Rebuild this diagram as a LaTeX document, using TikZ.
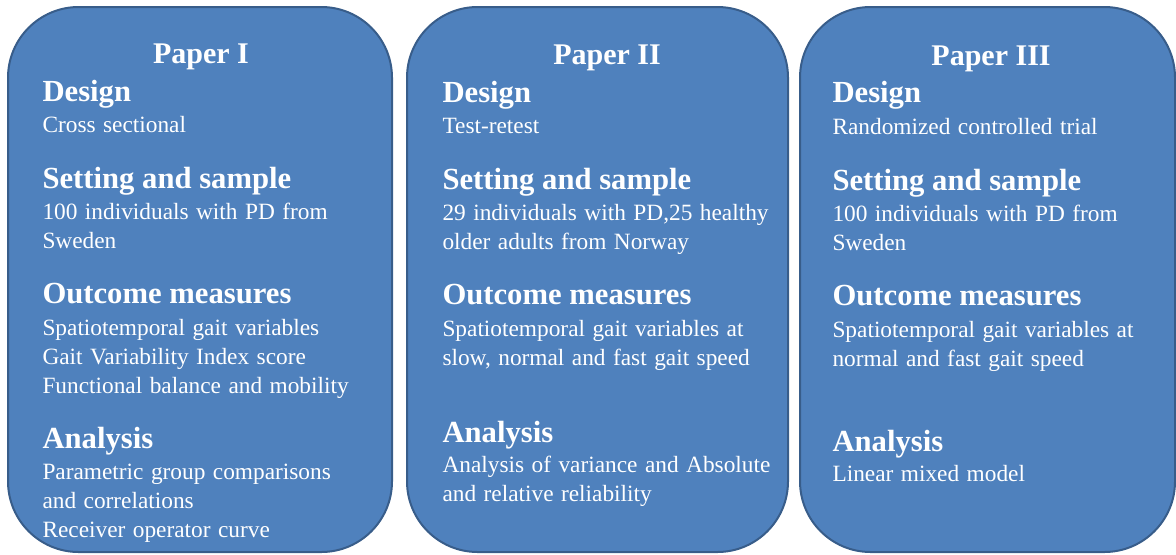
\documentclass[tikz,border=0pt]{standalone}
\usepackage{fontspec}
\setmainfont{Liberation Serif}

\definecolor{boxfill}{RGB}{79,129,189}
\definecolor{boxline}{RGB}{56,93,138}
\newcommand{\paperbodyfont}{\fontsize{17.5}{21}\selectfont\spaceskip=0.32em\relax}

\tikzset{every picture/.style={line width=0.75pt}}
\tikzset{
  paperbox/.style={draw=boxline, fill=boxfill, line width=1.5pt, rounded corners=53pt},
  titletxt/.style={anchor=base, inner sep=0pt, text=white, font=\fontsize{22.5}{27}\selectfont\bfseries},
  headtxt/.style={anchor=base west, inner sep=0pt, text=white, font=\fontsize{23}{28}\selectfont\bfseries},
  bodytxt/.style={anchor=base west, inner sep=0pt, text=white, font=\paperbodyfont}
}

\begin{document}
\begin{tikzpicture}[x=0.75pt,y=0.75pt,yscale=-1,xscale=1]
\useasboundingbox (0,0) rectangle (1176,554);

%Shape: Rounded Rect [paper I]
\draw [paperbox] (8,7) rectangle (392,552);
%Shape: Rounded Rect [paper II]
\draw [paperbox] (407,7) rectangle (788,552);
%Shape: Rounded Rect [paper III]
\draw [paperbox] (800,7) rectangle (1175,552);

% Text Node
\node [titletxt] (titleI) at (201,63) {Paper I};
\node [headtxt] (desI) at (42,101) {Design};
\node [bodytxt] (desIa) at (42,132) {Cross sectional};
\node [headtxt] (setI) at (42,188) {Setting and sample};
\node [bodytxt] (setIa) at (42,219) {100 individuals with PD from};
\node [bodytxt] (setIb) at (42,248) {Sweden};
\node [headtxt] (outI) at (42,303) {Outcome measures};
\node [bodytxt] (outIa) at (42,335) {Spatiotemporal gait variables};
\node [bodytxt] (outIb) at (42,364) {Gait Variability Index score};
\node [bodytxt] (outIc) at (42,393) {Functional balance and mobility};
\node [headtxt] (anaI) at (42,448) {Analysis};
\node [bodytxt] (anaIa) at (42,479) {Parametric group comparisons};
\node [bodytxt] (anaIb) at (42,508) {and correlations};
\node [bodytxt] (anaIc) at (42,537) {Receiver operator curve};

% Text Node
\node [titletxt] (titleII) at (607,64) {Paper II};
\node [headtxt] (desII) at (442,102) {Design};
\node [bodytxt] (desIIa) at (442,133) {Test-retest};
\node [headtxt] (setII) at (442,189) {Setting and sample};
\node [bodytxt] (setIIa) at (442,220) {29 individuals with PD,25 healthy};
\node [bodytxt] (setIIb) at (442,249) {older adults from Norway};
\node [headtxt] (outII) at (442,304) {Outcome measures};
\node [bodytxt] (outIIa) at (442,336) {Spatiotemporal gait variables at};
\node [bodytxt] (outIIb) at (442,365) {slow, normal and fast gait speed};
\node [headtxt] (anaII) at (442,442) {Analysis};
\node [bodytxt] (anaIIa) at (442,472) {Analysis of variance and Absolute};
\node [bodytxt] (anaIIb) at (442,501) {and relative reliability};

% Text Node
\node [titletxt] (titleIII) at (991,65) {Paper III};
\node [headtxt] (desIII) at (832,102) {Design};
\node [bodytxt] (desIIIa) at (832,134) {Randomized controlled trial};
\node [headtxt] (setIII) at (832,190) {Setting and sample};
\node [bodytxt] (setIIIa) at (832,221) {100 individuals with PD from};
\node [bodytxt] (setIIIb) at (832,250) {Sweden};
\node [headtxt] (outIII) at (832,305) {Outcome measures};
\node [bodytxt] (outIIIa) at (832,337) {Spatiotemporal gait variables at};
\node [bodytxt] (outIIIb) at (832,366) {normal and fast gait speed};
\node [headtxt] (anaIII) at (832,451) {Analysis};
\node [bodytxt] (anaIIIa) at (832,481) {Linear mixed model};

\end{tikzpicture}
\end{document}
